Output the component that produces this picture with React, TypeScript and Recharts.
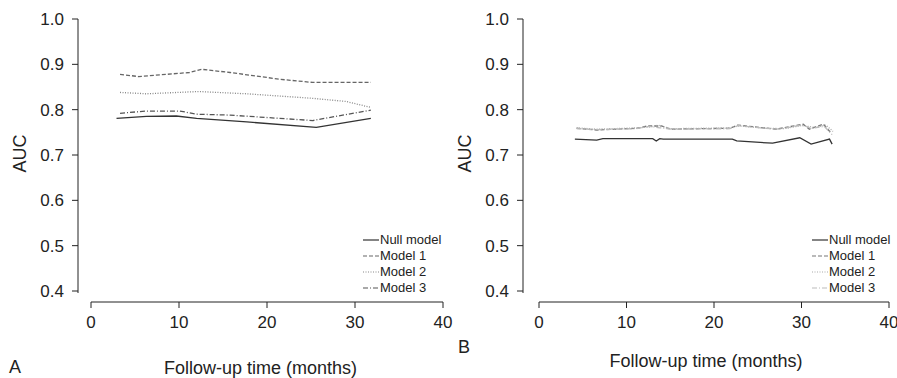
import { LineChart, Line, XAxis, YAxis, Legend } from "recharts";

const FONT = '"Liberation Sans", Arial, Helvetica, sans-serif';
const INK = "#222";

// tick labels
const xTicks = [0, 10, 20, 30, 40];
const yTicks = [0.4, 0.5, 0.6, 0.7, 0.8, 0.9, 1.0];

// Panel A
const nullA_t = [2.9, 6.3, 9.7, 12.0, 17.7, 25.6, 31.8];
const nullA_auc = [0.781, 0.785, 0.786, 0.781, 0.773, 0.761, 0.781];
const m1A_t = [3.3, 5.4, 11.2, 12.6, 15.8, 21.5, 25.2, 31.8];
const m1A_auc = [0.878, 0.873, 0.882, 0.889, 0.882, 0.867, 0.86, 0.86];
const m2A_t = [3.3, 6.3, 12.2, 17.7, 25.2, 29.0, 31.8];
const m2A_auc = [0.838, 0.835, 0.84, 0.835, 0.825, 0.818, 0.805];
const m3A_t = [3.3, 6.3, 10.1, 12.0, 15.8, 25.2, 31.8];
const m3A_auc = [0.792, 0.797, 0.797, 0.79, 0.788, 0.776, 0.799];

// Panel B
const nullB_t = [4.1, 6.6, 7.3, 13.0, 13.4, 13.8, 14.2, 22.1, 22.6, 26.7, 29.8, 31.1, 33.2, 33.5];
const nullB_auc = [0.735, 0.733, 0.736, 0.736, 0.731, 0.736, 0.735, 0.735, 0.731, 0.726, 0.738, 0.724, 0.735, 0.724];
const m1B_t = [4.3, 6.6, 11.2, 12.4, 14.0, 15.0, 21.8, 22.7, 25.6, 27.1, 30.2, 30.9, 32.5, 33.4];
const m1B_auc = [0.759, 0.755, 0.759, 0.764, 0.764, 0.757, 0.759, 0.766, 0.76, 0.757, 0.768, 0.757, 0.768, 0.748];
const m2B_t = [4.3, 6.6, 11.5, 12.8, 13.6, 15.0, 22.0, 22.8, 26.0, 28.0, 30.0, 31.5, 32.8, 33.6];
const m2B_auc = [0.76, 0.757, 0.76, 0.762, 0.766, 0.758, 0.76, 0.764, 0.759, 0.758, 0.765, 0.761, 0.766, 0.752];
const m3B_t = [4.3, 6.6, 11.0, 12.6, 13.8, 15.2, 21.8, 22.8, 25.8, 27.5, 30.0, 31.2, 32.6, 33.5];
const m3B_auc = [0.758, 0.756, 0.758, 0.763, 0.76, 0.757, 0.758, 0.765, 0.759, 0.757, 0.766, 0.759, 0.763, 0.745];

const names = ["Null model", "Model 1", "Model 2", "Model 3"];

const zip = (t: number[], v: number[]) => t.map((x, i) => ({ t: x, auc: v[i] }));

const dashes = ["", "4 2", "1 1.5", "5 2 1 2"];

const seriesA = [
  { name: names[0], data: zip(nullA_t, nullA_auc), color: "#333", dash: dashes[0] },
  { name: names[1], data: zip(m1A_t, m1A_auc), color: "#666", dash: dashes[1] },
  { name: names[2], data: zip(m2A_t, m2A_auc), color: "#888", dash: dashes[2] },
  { name: names[3], data: zip(m3A_t, m3A_auc), color: "#555", dash: dashes[3] },
];

const seriesB = [
  { name: names[0], data: zip(nullB_t, nullB_auc), color: "#333", dash: dashes[0] },
  { name: names[1], data: zip(m1B_t, m1B_auc), color: "#777", dash: dashes[1] },
  { name: names[2], data: zip(m2B_t, m2B_auc), color: "#aaa", dash: dashes[2] },
  { name: names[3], data: zip(m3B_t, m3B_auc), color: "#bbb", dash: dashes[3] },
];

function LegendBox({ series }: any) {
  return (
    <div style={{ fontFamily: FONT, fontSize: 13, color: INK, lineHeight: "16px" }}>
      {series.map((s: any) => (
        <div key={s.name} style={{ display: "flex", alignItems: "center", height: 16 }}>
          <svg width={16} height={10} style={{ marginRight: 1 }}>
            <line x1={0} x2={16} y1={5} y2={5} stroke={s.color} strokeWidth={1.2} strokeDasharray={s.dash} />
          </svg>
          <span>{s.name}</span>
        </div>
      ))}
    </div>
  );
}

function Panel({ series, left, padLeft, xGap, xDash, marginLeft, marginRight, titleOffset }: any) {
  return (
    <div style={{ position: "absolute", left, top: 0 }}>
      <LineChart
        width={460}
        height={378}
        margin={{ top: 19, right: marginRight, bottom: 16, left: marginLeft }}
      >
        <XAxis
          type="number"
          dataKey="t"
          domain={[0, 40]}
          ticks={xTicks}
          padding={{ left: padLeft, right: 0 }}
          height={60}
          tickSize={6}
          tickMargin={8}
          stroke={INK}
          axisLine={{ stroke: INK, strokeDasharray: `0 ${xGap} ${xDash} 40` }}
          tick={{ fill: INK, fontSize: 17, fontFamily: FONT }}
          label={{
            value: "Follow-up time (months)",
            position: "bottom",
            offset: titleOffset,
            fill: INK,
            fontSize: 18,
            fontFamily: FONT,
          }}
        />
        <YAxis
          type="number"
          domain={[0.4, 1.0]}
          ticks={yTicks}
          padding={{ top: 0, bottom: 11 }}
          width={60}
          tickSize={6}
          tickMargin={8}
          stroke={INK}
          axisLine={{ stroke: INK, strokeDasharray: "274 40" }}
          tickFormatter={(v: number) => v.toFixed(1)}
          tick={{ fill: INK, fontSize: 17, fontFamily: FONT }}
          label={{
            value: "AUC",
            angle: -90,
            position: "insideLeft",
            offset: 2,
            dy: -7,
            fill: INK,
            fontSize: 18,
            fontFamily: FONT,
            style: { textAnchor: "middle" },
          }}
        />
        {series.map((s: any) => (
          <Line
            key={s.name}
            data={s.data}
            dataKey="auc"
            name={s.name}
            type="linear"
            stroke={s.color}
            strokeWidth={1.3}
            strokeDasharray={s.dash || undefined}
            dot={false}
            activeDot={false}
            isAnimationActive={false}
          />
        ))}
        <Legend
          layout="vertical"
          align="center"
          verticalAlign="middle"
          wrapperStyle={{ left: 363, top: 232, width: 110, height: 64 }}
          content={() => <LegendBox series={series} />}
        />
      </LineChart>
    </div>
  );
}

export default function App() {
  return (
    <div
      style={{
        position: "absolute",
        left: 0,
        top: 0,
        width: 897,
        height: 378,
        overflow: "hidden",
        background: "#fff",
        fontFamily: FONT,
      }}
    >
      <Panel series={seriesA} left={0} padLeft={13} xGap={13} xDash={352} marginLeft={18} marginRight={17} titleOffset={-1} />
      <Panel series={seriesB} left={449} padLeft={16} xGap={16} xDash={350} marginLeft={14} marginRight={20} titleOffset={-8} />
      <div style={{ position: "absolute", left: 9, top: 357, fontSize: 18, color: INK }}>A</div>
      <div style={{ position: "absolute", left: 458, top: 337, fontSize: 18, color: INK }}>B</div>
    </div>
  );
}
